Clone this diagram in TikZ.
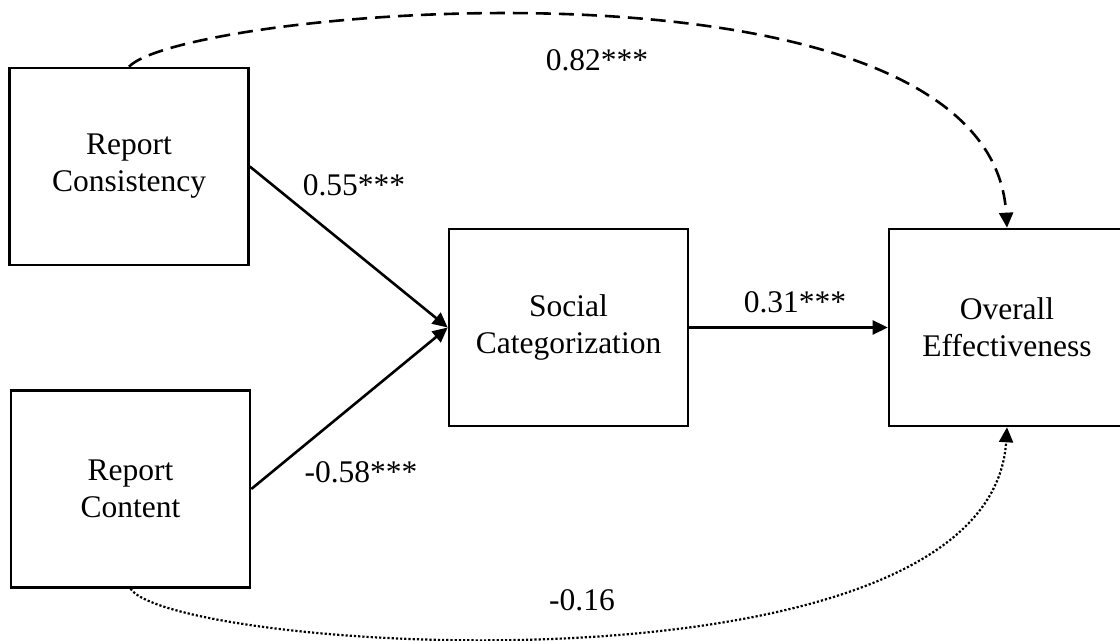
\documentclass[tikz,border=0pt]{standalone}
\usepackage{fontspec}
\setmainfont{Liberation Serif}
\usetikzlibrary{arrows.meta}

\begin{document}
\begin{tikzpicture}[x=0.5pt, y=-0.5pt,
        box/.style={draw, line width=1.3pt, inner sep=0pt, align=center,
            minimum width=119.5pt, minimum height=98.5pt,
            font=\fontsize{15.75}{18.5}\selectfont},
        coef/.style={font=\fontsize{15.75}{18.5}\selectfont},
        link/.style={line width=1.3pt, -{Triangle[length=7.5pt, width=7pt]}}]
        \useasboundingbox (0,0) rectangle (1120,641);
        \node[box] (rc) at (129,166.5) {Report\\Consistency};
        \node[box] (rct) at (130.5,489) {Report\\Content};
        \node[box] (sc) at (568.5,327.5) {Social\\Categorization};
        \node[box, minimum width=118pt] (oe) at (1007,327.5) {Overall\\Effectiveness};
        \draw[link] (rc.east) -- (sc.west);
        \draw[link] (rct.east) -- (sc.west);
        \draw[link] (sc) -- (oe);
        \draw[link, dash pattern=on 7.5pt off 4pt] (rc.north) .. controls (185,8) and (990,-62) .. (oe.north);
        \draw[link, line width=1.1pt, densely dotted] (rct.south) .. controls (175,652) and (990,705) .. (oe.south);
        \node[coef] (w1) at (354,185) {0.55***};
        \node[coef] (w2) at (361,472) {-0.58***};
        \node[coef] (w3) at (795,302) {0.31***};
        \node[coef] (w4) at (597,60) {0.82***};
        \node[coef] (w5) at (582,600) {-0.16};
    \end{tikzpicture}
\end{document}
